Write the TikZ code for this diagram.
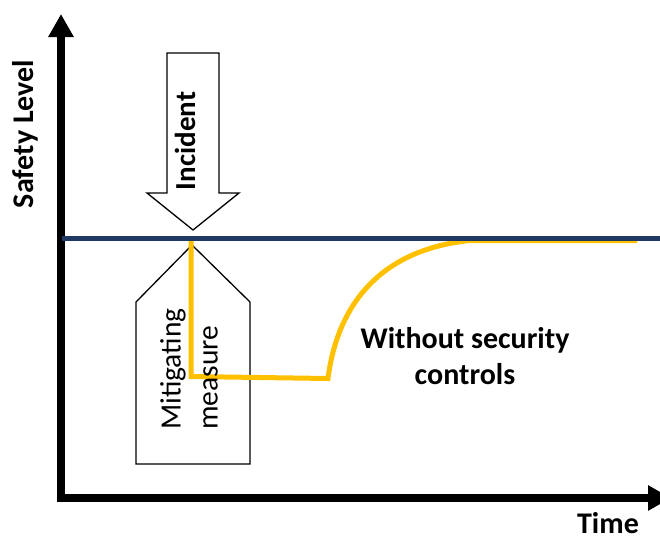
\documentclass[tikz,border=0pt]{standalone}
\usepackage{fontspec}
\setmainfont{Carlito}
\usetikzlibrary{arrows.meta}
\definecolor{levelblue}{RGB}{32,56,100}
\definecolor{curveyellow}{RGB}{255,192,0}

\begin{document}
\begin{tikzpicture}[x=1pt, y=-1pt,
    axisline/.style={line width=7.5pt, line join=miter,
      {Triangle[length=23pt,width=24pt]}-{Triangle[length=23pt,width=24pt]}},
    outline/.style={draw=black, line width=1.3pt, fill=white, line join=miter},
    boldtext/.style={font=\bfseries\fontsize{30}{36}\selectfont, inner sep=0pt},
    plaintext/.style={font=\fontsize{29.5}{37}\selectfont, inner sep=0pt},
    ]
    \useasboundingbox (0,0) rectangle (660,541);
    %Axes
    \coordinate (ytop) at (61,14);
    \coordinate (origin) at (61,498);
    \coordinate (xend) at (671,498);
    \draw[axisline] (ytop) -- (origin) -- (xend);
    \node[boldtext, rotate=90, anchor=base] (ylab) at (33,134) {Safety Level};
    \node[boldtext, anchor=base] (xlab) at (608,533) {Time};

    %Shapes
    \draw[outline] (167,53) -- (219,53) -- (219,193) -- (239,193) -- (193,230)
      -- (147,193) -- (167,193) -- cycle;
    \draw[outline] (136,464) -- (136,302) -- (192,245) -- (250,302) -- (250,464) -- cycle;

    %Curve and level
    \coordinate (drop) at (191,241);
    \coordinate (low) at (191,376.5);
    \coordinate (lowend) at (328,378.5);
    \coordinate (back) at (470,240.5);
    \coordinate (curveend) at (637,240.5);
    \draw[curveyellow, line width=5pt, line join=miter]
      (drop) -- (low) -- (lowend) .. controls (338,300) and (385,249) .. (back) -- (curveend);
    \coordinate (levelL) at (62,238.5);
    \coordinate (levelR) at (660,238.5);
    \draw[levelblue, line width=5pt] (levelL) -- (levelR);

    %Texts
    \node[boldtext, font=\bfseries\fontsize{29}{36}\selectfont, rotate=90, anchor=base] (incident) at (195,141) {Incident};
    \node[plaintext, rotate=90, anchor=north west, align=left] (mitigating) at (160,430) {Mitigating\\measure};
    \node[boldtext, anchor=north, align=center] (without) at (465,327) {Without security\\controls};
\end{tikzpicture}
\end{document}
